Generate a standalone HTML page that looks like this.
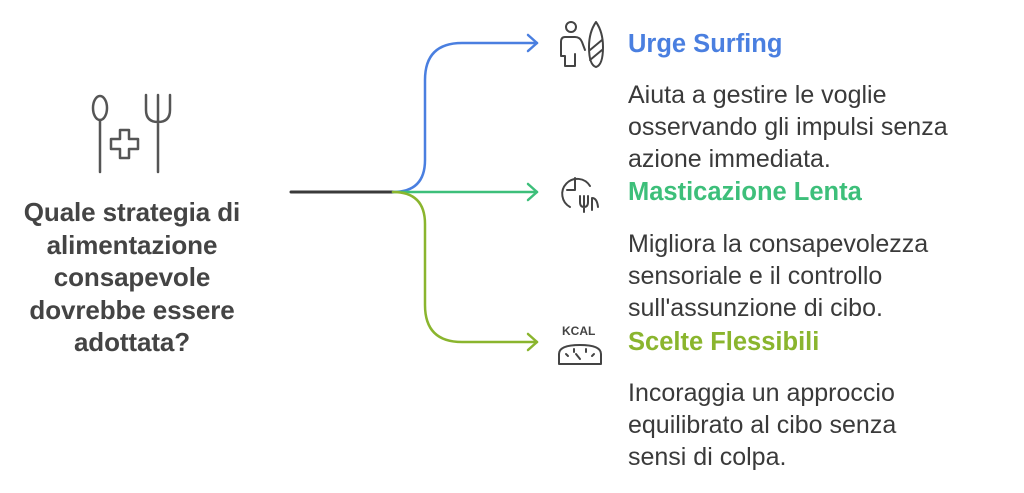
<!DOCTYPE html>
<html><head><style>
body{margin:0;width:1024px;height:493px;background:#fff;overflow:hidden;position:relative;font-family:"Liberation Sans",sans-serif}
.t{position:absolute;font-weight:bold;font-size:25.5px;white-space:nowrap;line-height:30px}
.d{position:absolute;left:628px;font-size:25px;line-height:32px;color:#3a3a3a;white-space:nowrap;letter-spacing:0px}
.q{position:absolute;left:0;width:264px;top:196px;text-align:center;font-weight:bold;font-size:26px;line-height:32.5px;color:#444;letter-spacing:-0.1px}
</style></head><body>
<svg width="1024" height="493" style="position:absolute;left:0;top:0" fill="none" stroke-linecap="round" stroke-linejoin="round">
<path d="M291 192H393" stroke="#3a3a3a" stroke-width="3"/>
<path d="M393 192Q425 192 425 160V80Q425 43 462 43H537" stroke="#4a7fe0" stroke-width="2.5"/>
<path d="M528 35L537 43L528 51" stroke="#4a7fe0" stroke-width="2.5"/>
<path d="M393 192H537" stroke="#3dbf7a" stroke-width="2.5"/>
<path d="M528 184L537 192L528 200" stroke="#3dbf7a" stroke-width="2.5"/>
<path d="M393 192Q425 192 425 224V305Q425 342 462 342H537" stroke="#8ab52e" stroke-width="2.5"/>
<path d="M528 334L537 342L528 350" stroke="#8ab52e" stroke-width="2.5"/>
<g stroke="#555" stroke-width="2.5">
<ellipse cx="100" cy="108" rx="7" ry="12"/><path d="M100 120V172"/>
<path d="M146 95V110Q146 122 158 122Q170 122 170 110V95M158 95V172"/>
<path d="M120 130h9v9h9v10h-9v9h-9v-9h-9v-10h9z"/>
<g stroke="#444" stroke-width="2">
<circle cx="571" cy="27" r="5"/><path d="M565 37h10q5 0 7 5l3 8M565 37q-4 0-4 5v14h4v10h10v-12"/>
<path d="M596 22q-7 10-7 25q0 18 7 20q7-2 7-20q0-15-7-25zM590 50l12-10M590 60l12-10"/>
<path d="M590 186a15 15 0 1 0-20 21M575 178v12h-8M580 196v6q0 5 4 5q4 0 4-5v-6M584 196v16M592 210v-12q5 0 6 9"/>
<text x="562" y="335" font-size="12" font-weight="bold" fill="#444" stroke="none" font-family="Liberation Sans">KCAL</text>
<path d="M559 364v-10q0-9 21-9q21 0 21 9v10zM566 354l2 2M574 349v3M586 349v3M594 354l-2 2M580 359l-4-5"/>
</g></g>
</svg>
<div class="q">Quale strategia di<br>alimentazione<br>consapevole<br>dovrebbe essere<br>adottata?</div>
<div class="t" style="left:628px;top:29px;color:#4a7fe0">Urge Surfing</div>
<div class="d" style="top:79px">Aiuta a gestire le voglie<br>osservando gli impulsi senza<br>azione immediata.</div>
<div class="t" style="left:628px;top:177px;color:#3dbf7a">Masticazione Lenta</div>
<div class="d" style="top:228px">Migliora la consapevolezza<br>sensoriale e il controllo<br>sull'assunzione di cibo.</div>
<div class="t" style="left:628px;top:327px;color:#8ab52e">Scelte Flessibili</div>
<div class="d" style="top:377px">Incoraggia un approccio<br>equilibrato al cibo senza<br>sensi di colpa.</div>
</body></html>
